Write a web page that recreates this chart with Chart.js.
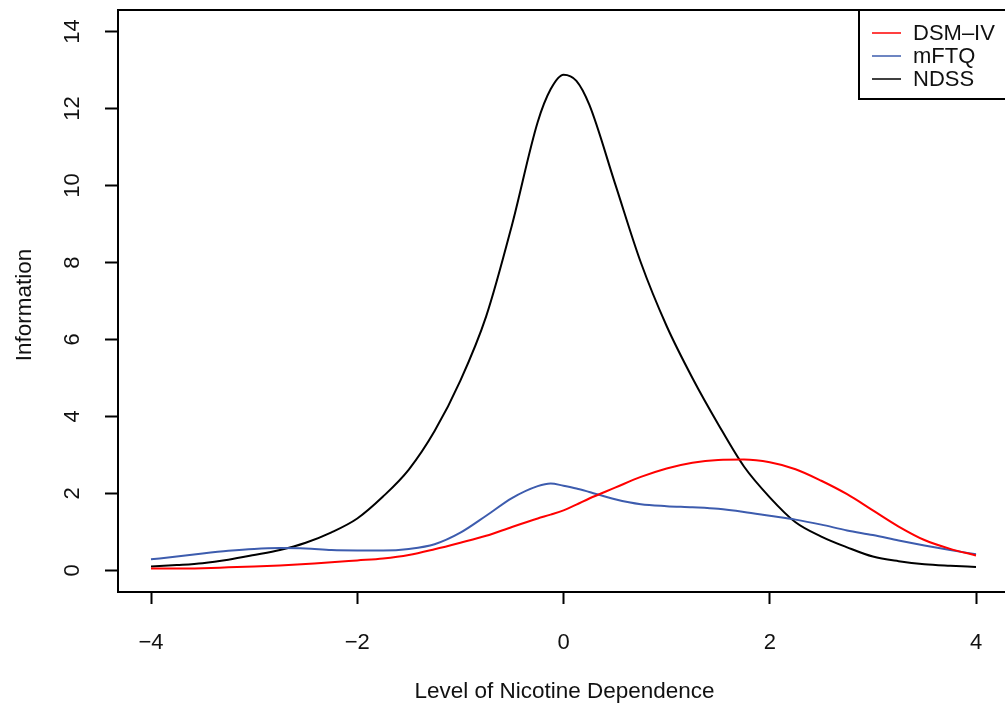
<!DOCTYPE html>
<html>
<head>
<meta charset="utf-8">
<title>Information by level of nicotine dependence</title>
<script src="https://cdn.jsdelivr.net/npm/chart.js@4.4.1/dist/chart.umd.min.js"></script>
<style>
  html, body { margin: 0; padding: 0; background: #fff; overflow: hidden; }
  #wrap { width: 1015px; height: 709px; }
</style>
</head>
<body>
<div id="wrap"><canvas id="info-chart" width="1015" height="709"></canvas></div>
<script>
// --- Data ---
const levels = [-4, -3.75, -3.5, -3.25, -3, -2.75, -2.5, -2.25, -2, -1.75, -1.5, -1.25, -1, -0.75, -0.5, -0.25, -0.125,
    0, 0.125, 0.25, 0.5, 0.75, 1, 1.25, 1.5, 1.75, 2, 2.25, 2.5, 2.75, 3, 3.25, 3.5, 3.75, 4];

const dsmIV = [0.05, 0.05, 0.06, 0.08, 0.10, 0.13, 0.17, 0.21, 0.26, 0.31, 0.40, 0.55, 0.72, 0.90, 1.13, 1.35, 1.45,
    1.56, 1.71, 1.87, 2.15, 2.43, 2.65, 2.80, 2.87, 2.88, 2.81, 2.63, 2.33, 1.98, 1.56, 1.14, 0.79, 0.56, 0.39];

const mFTQ = [0.29, 0.36, 0.44, 0.51, 0.56, 0.58, 0.57, 0.53, 0.52, 0.52, 0.56, 0.68, 0.98, 1.42, 1.88, 2.19, 2.26,
    2.20, 2.13, 2.04, 1.85, 1.72, 1.67, 1.64, 1.60, 1.52, 1.42, 1.32, 1.19, 1.04, 0.92, 0.78, 0.65, 0.53, 0.42];

const ndss = [0.10, 0.14, 0.19, 0.28, 0.40, 0.53, 0.72, 0.99, 1.35, 1.92, 2.62, 3.62, 4.93, 6.60, 8.97, 11.65, 12.50,
    12.88, 12.72, 12.10, 10.05, 8.00, 6.35, 5.00, 3.80, 2.70, 1.90, 1.25, 0.88, 0.60, 0.36, 0.24, 0.16, 0.12, 0.09];

const xTicks = [-4, -2, 0, 2, 4];
const xTickLabels = ['\u22124', '\u22122', '0', '2', '4'];
const yTicks = [0, 2, 4, 6, 8, 10, 12, 14];

const seriesNames = ['DSM\u2013IV', 'mFTQ', 'NDSS'];
const seriesColors = ['#ff0000', '#3d5cae', '#000000'];

const FONT = '"Liberation Sans", Arial, Helvetica, sans-serif';
const toPoints = vals => vals.map((v, i) => ({ x: levels[i], y: v }));

// --- Box, rotated y labels, axis titles and legend (R style) ---
const framePlugin = {
    id: 'frame',
    afterDraw(chart) {
        const { ctx, chartArea: a, scales } = chart;
        ctx.save();

        // plot box
        ctx.strokeStyle = '#000';
        ctx.lineWidth = 2;
        ctx.strokeRect(a.left, a.top, a.right - a.left, a.bottom - a.top);

        ctx.fillStyle = '#111';
        ctx.font = `22px ${FONT}`;
        ctx.textAlign = 'center';
        ctx.textBaseline = 'middle';

        // y tick labels, written vertically
        yTicks.forEach(v => {
            const y = scales.y.getPixelForValue(v);
            ctx.save();
            ctx.translate(73, y);
            ctx.rotate(-Math.PI / 2);
            ctx.fillText(String(v), 0, 0);
            ctx.restore();
        });

        // axis titles
        ctx.font = `22.5px ${FONT}`;
        ctx.fillText('Level of Nicotine Dependence', (a.left + a.right) / 2 + 1, 692);
        ctx.save();
        ctx.translate(25, (a.top + a.bottom) / 2 + 4);
        ctx.rotate(-Math.PI / 2);
        ctx.fillText('Information', 0, 0);
        ctx.restore();

        // legend in the top right corner
        const lx = 859, ly = a.top, lh = 99 - a.top;
        ctx.fillStyle = '#fff';
        ctx.fillRect(lx, ly, a.right - lx, lh);
        ctx.strokeStyle = '#000';
        ctx.lineWidth = 2;
        ctx.strokeRect(lx, ly, a.right - lx, lh);

        ctx.textAlign = 'left';
        ctx.font = `22px ${FONT}`;
        seriesNames.forEach((name, i) => {
            const y = 33 + i * 23;
            ctx.strokeStyle = seriesColors[i];
            ctx.lineWidth = 1.5;
            ctx.beginPath();
            ctx.moveTo(872, y);
            ctx.lineTo(901, y);
            ctx.stroke();
            ctx.fillStyle = '#111';
            ctx.fillText(name, 913, y + 1);
        });

        ctx.restore();
    }
};

const makeDataset = (label, values, color) => ({
    label,
    data: toPoints(values),
    borderColor: color,
    backgroundColor: color,
    borderWidth: 2,
    pointRadius: 0,
    cubicInterpolationMode: 'monotone',
    fill: false
});

new Chart(document.getElementById('info-chart'), {
    type: 'line',
    data: {
        datasets: [
            makeDataset(seriesNames[0], dsmIV, seriesColors[0]),
            makeDataset(seriesNames[1], mFTQ, seriesColors[1]),
            makeDataset(seriesNames[2], ndss, seriesColors[2])
        ]
    },
    options: {
        responsive: false,
        animation: false,
        layout: { padding: { top: 10, right: 6, left: 0, bottom: 0 } },
        plugins: {
            legend: { display: false },
            tooltip: { enabled: false }
        },
        scales: {
            x: {
                type: 'linear',
                min: -4.32,
                max: 4.32,
                afterBuildTicks: scale => { scale.ticks = xTicks.map(v => ({ value: v })); },
                afterFit: scale => { scale.height = 117; },
                border: { display: false },
                grid: {
                    drawOnChartArea: false,
                    drawTicks: true,
                    tickLength: 12,
                    tickColor: '#000',
                    tickWidth: 2
                },
                ticks: {
                    autoSkip: false,
                    maxRotation: 0,
                    padding: 26,
                    color: '#111',
                    font: { family: FONT, size: 22 },
                    callback: value => xTickLabels[xTicks.indexOf(value)]
                }
            },
            y: {
                type: 'linear',
                min: -0.56,
                max: 14.56,
                afterBuildTicks: scale => { scale.ticks = yTicks.map(v => ({ value: v })); },
                afterFit: scale => { scale.width = 118; },
                border: { display: false },
                grid: {
                    drawOnChartArea: false,
                    drawTicks: true,
                    tickLength: 13,
                    tickColor: '#000',
                    tickWidth: 2
                },
                ticks: { display: false }
            }
        }
    },
    plugins: [framePlugin]
});
</script>
</body>
</html>
